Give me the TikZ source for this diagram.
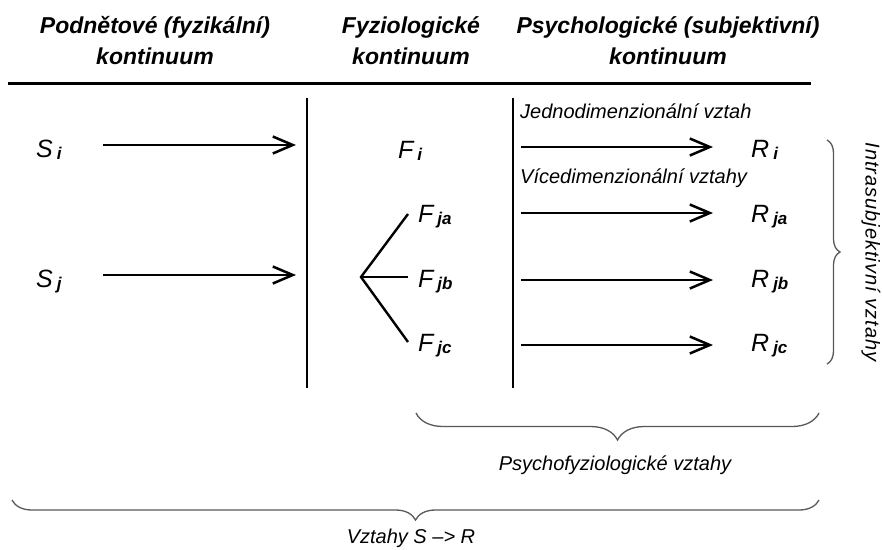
\documentclass[tikz,border=0pt]{standalone}
\usepackage{fontspec}
\setmainfont{Liberation Sans}
\newfontfamily\spaced{Liberation Sans}[LetterSpace=5]
\usetikzlibrary{arrows.meta,decorations.pathreplacing}
\newcommand{\sym}[2]{{\fontsize{25}{25}\selectfont\itshape #1}\hspace{4pt}\raisebox{-0.5ex}{\fontsize{17}{17}\selectfont\bfseries\itshape #2}}
\tikzset{
  head/.style={font=\fontsize{23}{23}\selectfont\bfseries\itshape, inner sep=0pt, anchor=base},
  lab/.style={inner sep=0pt, anchor=base west},
  small/.style={font=\fontsize{20}{20}\selectfont\itshape, inner sep=0pt},
  arr/.style={line width=2.7pt, -{Straight Barb[length=20pt,width=17pt,line width=2.5pt]}},
  bar/.style={line width=2.7pt},
  fork/.style={line width=2.4pt},
  brc/.style={draw=gray!70!black, line width=1.3pt, decorate, decoration={brace, amplitude=#1}},
}
\begin{document}
\begin{tikzpicture}[x=1pt,y=-1pt]
\useasboundingbox[fill=white] (0,0) rectangle (882,549);
% headers
\node[head] (h1a) at (155,33) {Podnětové (fyzikální)};
\node[head] (h1b) at (155,64) {kontinuum};
\node[head] (h2a) at (411,33) {Fyziologické};
\node[head] (h2b) at (411,64) {kontinuum};
\node[head] (h3a) at (668,33) {Psychologické (subjektivní)};
\node[head] (h3b) at (668,64) {kontinuum};
\coordinate (r1) at (8,83);
\coordinate (r2) at (811,83);
\draw[line width=3pt] (r1) -- (r2);
% vertical bars
\coordinate (v1t) at (307,98); \coordinate (v1b) at (307,388);
\coordinate (v2t) at (513,98); \coordinate (v2b) at (513,388);
\draw[bar] (v1t) -- (v1b);
\draw[bar] (v2t) -- (v2b);
% stimulus
\node[lab] (si) at (36,157) {\sym{S}{i}};
\node[lab] (sj) at (36,287) {\sym{S}{j}};
\coordinate (a1s) at (103,145); \coordinate (a1e) at (296,145);
\coordinate (a2s) at (103,275); \coordinate (a2e) at (296,275);
\draw[arr] (a1s) -- (a1e);
\draw[arr] (a2s) -- (a2e);
% physiological
\node[lab] (fi) at (398,158) {\sym{F}{i}};
\node[lab] (fja) at (418,222) {\sym{F}{ja}};
\node[lab] (fjb) at (418,287) {\sym{F}{jb}};
\node[lab] (fjc) at (418,351) {\sym{F}{jc}};
\coordinate (fk) at (361,277);
\coordinate (fka) at (408,214);
\coordinate (fkb) at (408,277);
\coordinate (fkc) at (408,342);
\draw[fork] (fka) -- (fk) -- (fkc);
\draw[fork] (fk) -- (fkb);
% psychological
\node[small, anchor=base west] (jed) at (520,118) {Jednodimenzionální vztah};
\node[small, anchor=base west] (vic) at (520,183) {Vícedimenzionální vztahy};
\foreach \n/\y in {i/147, ja/213, jb/280, jc/345} {
  \coordinate (b\n s) at (521,\y);
  \coordinate (b\n e) at (713,\y);
  \draw[arr] (b\n s) -- (b\n e);
}
\node[lab] (ri) at (751,157) {\sym{R}{i}};
\node[lab] (rja) at (751,222) {\sym{R}{ja}};
\node[lab] (rjb) at (751,287) {\sym{R}{jb}};
\node[lab] (rjc) at (751,351) {\sym{R}{jc}};
% braces
\coordinate (bt) at (827,140); \coordinate (bb) at (827,364);
\draw[brc=13pt] (bt) -- (bb);
\node[small, font=\fontsize{20}{20}\selectfont\spaced\itshape, rotate=-90] (intra) at (871,252) {Intrasubjektivní vztahy};
\coordinate (p1) at (819,413); \coordinate (p2) at (416,413);
\draw[brc=27pt] (p1) -- (p2);
\node[small] (psy) at (615,465) {Psychofyziologické vztahy};
\coordinate (q1) at (819,500); \coordinate (q2) at (12,500);
\draw[brc=20pt] (q1) -- (q2);
\node[small] (srr) at (411,538) {Vztahy S –> R};
\end{tikzpicture}
\end{document}
